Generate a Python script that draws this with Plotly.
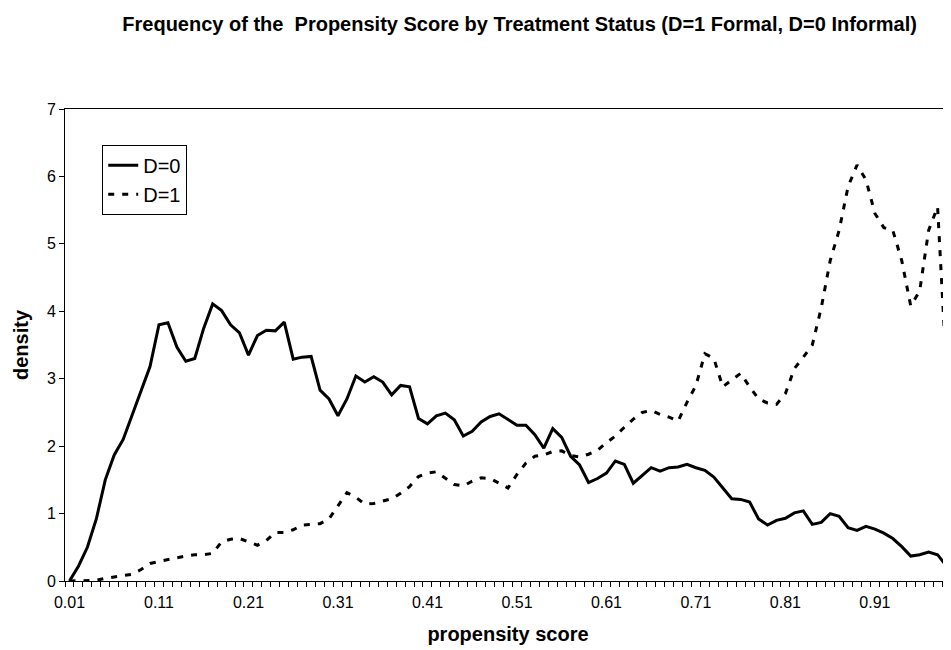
import plotly.graph_objects as go

# propensity score categories (0.01 ... 0.99)
scores = [round(0.01 * k, 2) for k in range(1, 100)]
tick_scores = [0.01, 0.11, 0.21, 0.31, 0.41, 0.51, 0.61, 0.71, 0.81, 0.91]
tick_labels = ["0.01", "0.11", "0.21", "0.31", "0.41", "0.51", "0.61", "0.71", "0.81", "0.91"]

# D=0 (informal) density
d0 = [0.0, 0.22, 0.5, 0.92, 1.5, 1.87, 2.1, 2.47, 2.84, 3.18,
      3.8, 3.83, 3.47, 3.26, 3.3, 3.75, 4.11, 4.01, 3.8, 3.68,
      3.35, 3.64, 3.72, 3.71, 3.84, 3.29, 3.32, 3.33, 2.83, 2.7,
      2.45, 2.7, 3.04, 2.95, 3.03, 2.95, 2.76, 2.9, 2.88, 2.41,
      2.33, 2.45, 2.49, 2.39, 2.15, 2.22, 2.36, 2.44, 2.48, 2.4,
      2.31, 2.31, 2.17, 1.97, 2.26, 2.13, 1.85, 1.72, 1.46, 1.52,
      1.6, 1.78, 1.73, 1.45, 1.57, 1.68, 1.63, 1.68, 1.69, 1.73,
      1.68, 1.64, 1.54, 1.38, 1.22, 1.21, 1.17, 0.92, 0.83, 0.9,
      0.93, 1.01, 1.04, 0.84, 0.87, 1.0, 0.96, 0.79, 0.75, 0.81,
      0.77, 0.71, 0.63, 0.51, 0.37, 0.39, 0.43, 0.39, 0.22]

# D=1 (formal) density
d1 = [0.0, 0.0, 0.01, 0.01, 0.04, 0.06, 0.08, 0.1, 0.17, 0.26,
      0.29, 0.32, 0.35, 0.37, 0.39, 0.39, 0.41, 0.58, 0.62, 0.63,
      0.58, 0.53, 0.6, 0.72, 0.72, 0.76, 0.83, 0.84, 0.85, 0.92,
      1.12, 1.31, 1.24, 1.14, 1.15, 1.18, 1.22, 1.3, 1.4, 1.55,
      1.6, 1.62, 1.52, 1.43, 1.41, 1.48, 1.53, 1.52, 1.45, 1.38,
      1.58, 1.75, 1.85, 1.87, 1.92, 1.93, 1.86, 1.84, 1.88, 1.94,
      2.05, 2.15, 2.28, 2.4, 2.5, 2.53, 2.47, 2.43, 2.37, 2.65,
      2.9, 3.37, 3.3, 2.88, 2.98, 3.08, 2.88, 2.7, 2.64, 2.62,
      2.78, 3.15, 3.32, 3.5, 4.05, 4.75, 5.2, 5.85, 6.17, 5.95,
      5.45, 5.24, 5.2, 4.75, 4.08, 4.3, 5.2, 5.55, 3.1]

font_family = "Arial, Liberation Sans, sans-serif"

fig = go.Figure()
fig.add_trace(go.Scatter(x=scores, y=d0, mode="lines", name="D=0",
                         line=dict(color="black", width=3)))
fig.add_trace(go.Scatter(x=scores, y=d1, mode="lines", name="D=1",
                         line=dict(color="black", width=3, dash="6px,8px")))

fig.update_layout(
    width=951, height=650,
    margin=dict(l=57, r=8, t=101, b=77),
    paper_bgcolor="white", plot_bgcolor="white",
    font=dict(family=font_family, color="black", size=16),
    title=dict(text="<b>Frequency of the  Propensity Score by Treatment Status (D=1 Formal, D=0 Informal)</b>",
               x=0.538, xanchor="center", y=1 - 16 / 650, yanchor="middle",
               font=dict(size=20)),
    showlegend=True,
    legend=dict(x=0.042, y=0.924, xanchor="left", yanchor="top",
                bgcolor="white", bordercolor="black", borderwidth=1,
                font=dict(size=20), tracegroupgap=0),
)

fig.update_xaxes(
    range=[0.005, 0.995], showgrid=False, zeroline=False,
    showline=True, linecolor="black", linewidth=1, mirror=True,
    tickvals=tick_scores, ticktext=tick_labels,
    ticks="outside", ticklen=7, tickcolor="rgba(0,0,0,0)",
    minor=dict(ticks="outside", tick0=0.005, dtick=0.01, ticklen=5,
               tickcolor="black", showgrid=False),
    title=dict(text="<b>propensity score</b>", font=dict(size=20), standoff=16),
)

fig.update_yaxes(
    range=[0, 7], dtick=1, showgrid=False, zeroline=False,
    showline=True, linecolor="black", linewidth=1, mirror=True,
    ticks="outside", ticklen=5, tickcolor="black",
    title=dict(text="<b>density</b>", font=dict(size=20), standoff=12),
)

fig.write_html("out.html")
